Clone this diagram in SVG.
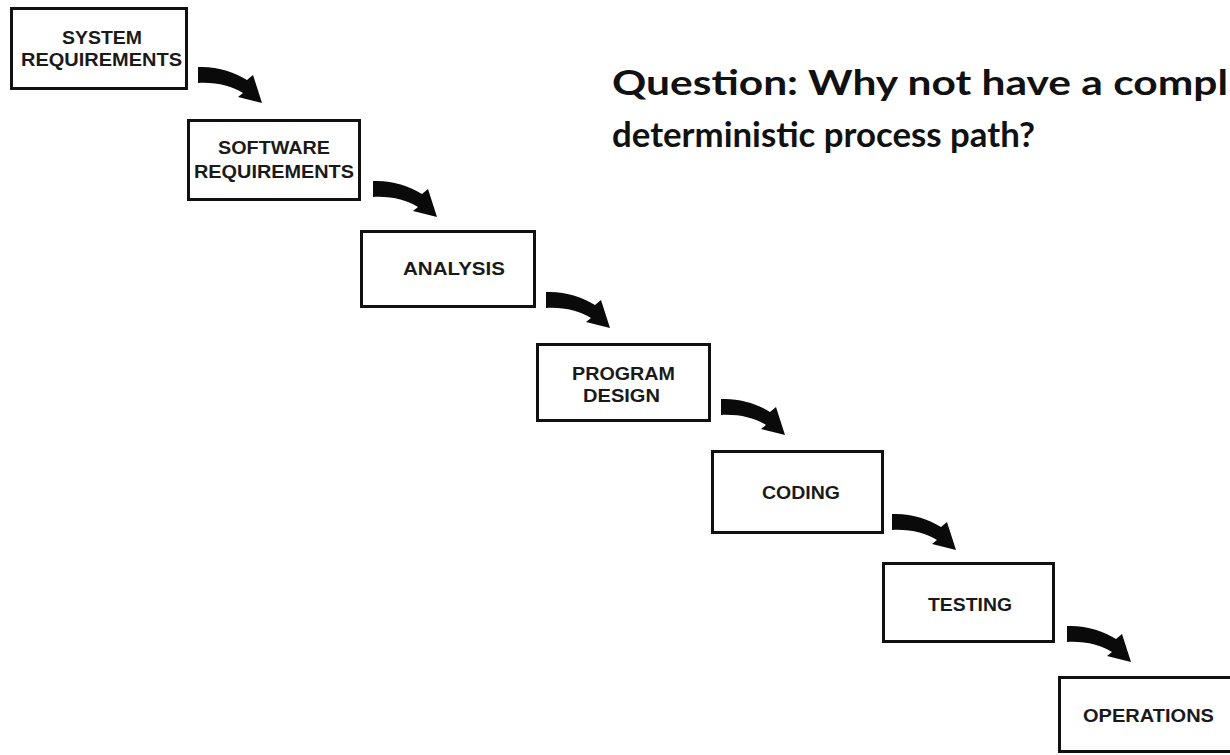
<svg xmlns="http://www.w3.org/2000/svg" xmlns:xlink="http://www.w3.org/1999/xlink" width="1230" height="755" viewBox="0 0 1230 755">
  <style>
    .box { fill: #ffffff; stroke: #111111; stroke-width: 3; }
    .lbl { font-family: "Liberation Sans", Arial, sans-serif; font-weight: bold; font-size: 17.5px; fill: #1a1a1a; text-anchor: middle; }
    .q { font-family: Lato, "Open Sans", sans-serif; font-weight: bold; font-size: 35px; fill: #111111; }
    .arrow { fill: #0a0a0a; }
  </style>
  <defs>
    <path id="arr" class="arrow" d="M0,-1 C18,-2 37,4 49,12 L55,7 L64,35 L40,29 L45,25 C34,18 18,14 0,15 Z"/>
  </defs>
  <rect width="1230" height="755" fill="#ffffff"/>

  <g id="connectors">
    <use xlink:href="#arr" href="#arr" transform="translate(198,68)"/>
    <use xlink:href="#arr" href="#arr" transform="translate(373,182)"/>
    <use xlink:href="#arr" href="#arr" transform="translate(546,293)"/>
    <use xlink:href="#arr" href="#arr" transform="translate(721,400)"/>
    <use xlink:href="#arr" href="#arr" transform="translate(892,515)"/>
    <use xlink:href="#arr" href="#arr" transform="translate(1067,627)"/>
  </g>

  <g id="node-system-requirements">
    <rect class="box" x="11.5" y="8.5" width="175" height="80"/>
    <text class="lbl" x="102" y="44" textLength="80" lengthAdjust="spacingAndGlyphs">SYSTEM</text>
    <text class="lbl" x="101.5" y="66" textLength="161" lengthAdjust="spacingAndGlyphs">REQUIREMENTS</text>
  </g>
  <g id="node-software-requirements">
    <rect class="box" x="188.5" y="120.5" width="171" height="79"/>
    <text class="lbl" x="274" y="154" textLength="112" lengthAdjust="spacingAndGlyphs">SOFTWARE</text>
    <text class="lbl" x="274" y="178" textLength="160" lengthAdjust="spacingAndGlyphs">REQUIREMENTS</text>
  </g>
  <g id="node-analysis">
    <rect class="box" x="361.5" y="231.5" width="173" height="75"/>
    <text class="lbl" x="454" y="275" textLength="102" lengthAdjust="spacingAndGlyphs">ANALYSIS</text>
  </g>
  <g id="node-program-design">
    <rect class="box" x="537.5" y="344.5" width="172" height="76"/>
    <text class="lbl" x="623.5" y="380" textLength="103" lengthAdjust="spacingAndGlyphs">PROGRAM</text>
    <text class="lbl" x="621.5" y="402" textLength="77" lengthAdjust="spacingAndGlyphs">DESIGN</text>
  </g>
  <g id="node-coding">
    <rect class="box" x="712.5" y="451.5" width="170" height="81"/>
    <text class="lbl" x="801" y="499" textLength="78" lengthAdjust="spacingAndGlyphs">CODING</text>
  </g>
  <g id="node-testing">
    <rect class="box" x="883.5" y="563.5" width="170" height="78"/>
    <text class="lbl" x="970" y="611" textLength="84" lengthAdjust="spacingAndGlyphs">TESTING</text>
  </g>
  <g id="node-operations">
    <rect class="box" x="1059.5" y="677.5" width="200" height="74"/>
    <text class="lbl" x="1148.5" y="722" textLength="131" lengthAdjust="spacingAndGlyphs">OPERATIONS</text>
  </g>

  <g id="question">
    <text class="q" x="612" y="95" textLength="616" lengthAdjust="spacingAndGlyphs">Question: Why not have a compl</text>
    <text class="q" x="612" y="147" textLength="423" lengthAdjust="spacingAndGlyphs">deterministic process path?</text>
  </g>
</svg>
